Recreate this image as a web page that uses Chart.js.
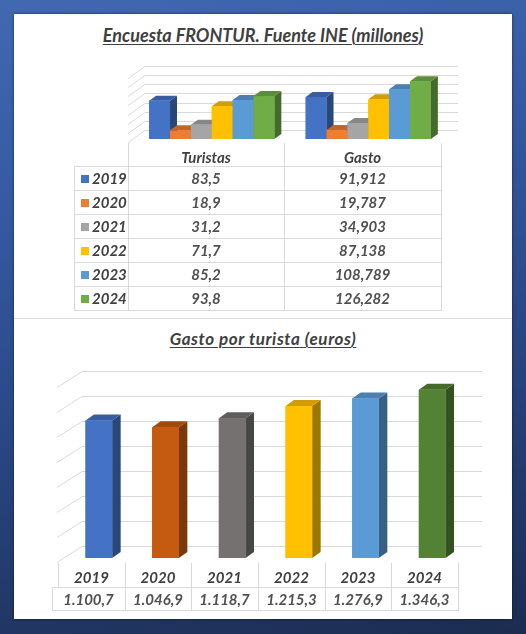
<!DOCTYPE html>
<html><head><meta charset="utf-8">
<script src="https://cdn.jsdelivr.net/npm/chart.js@4.4.1/dist/chart.umd.min.js"></script>
<style>
html,body{margin:0;padding:0;width:526px;height:634px;overflow:hidden;}
body{position:relative;background:linear-gradient(168deg,#4168b1 0%,#3459a0 30%,#27437d 65%,#1c2c50 100%);font-family:Lato,'Open Sans',sans-serif;}
#panel{position:absolute;left:14px;top:14px;width:498px;height:605px;background:#fff;box-shadow:0 0 3px rgba(0,0,0,.55);}
#sep{position:absolute;left:14px;top:318px;width:498px;height:1px;background:#d9d9d9;}
canvas{position:absolute;left:0;top:0;}
.title{position:absolute;left:0;width:526px;text-align:center;font-weight:bold;font-style:italic;color:#404040;font-size:17px;line-height:20px;text-decoration:underline;text-decoration-thickness:1px;text-underline-offset:2px;white-space:nowrap;}
.ln{position:absolute;background:#d9d9d9;}
.cell{position:absolute;display:flex;align-items:center;justify-content:center;font-weight:bold;font-style:italic;color:#404040;font-size:15px;white-space:nowrap;line-height:18px;}
.val{color:#505050;}
.key{position:absolute;width:8px;height:8px;}
</style></head><body>
<div id="panel"></div>
<div id="sep"></div>
<div class="title" id="t1" style="top:25px;font-size:18px;">Encuesta FRONTUR. Fuente INE (millones)</div>
<div class="title" id="t2" style="top:329px;letter-spacing:0.6px;">Gasto por turista (euros)</div>
<canvas id="c1" width="526" height="634"></canvas>
<canvas id="c2" width="526" height="634"></canvas>
<div id="tbl"></div>
<script>
// ---------- DATA ----------
const topCategories = ['Turistas', 'Gasto'];
const years = ['2019', '2020', '2021', '2022', '2023', '2024'];
const turistas = [83.5, 18.9, 31.2, 71.7, 85.2, 93.8];
const gasto = [91.912, 19.787, 34.903, 87.138, 108.789, 126.282];
const gastoPorTurista = [1100.7, 1046.9, 1118.7, 1215.3, 1276.9, 1346.3];
const topTicks = [0, 20, 40, 60, 80, 100, 120, 140];
const bottomTicks = [0, 200, 400, 600, 800, 1000, 1200, 1400];
const topColors = ['#4472C4', '#ED7D31', '#A5A5A5', '#FFC000', '#5B9BD5', '#70AD47'];
const bottomColors = ['#4472C4', '#C55A11', '#767171', '#FFC000', '#5B9BD5', '#548235'];

// ---------- helpers ----------
function shade(hex, f) {
  const n = parseInt(hex.slice(1), 16);
  const r = Math.round(((n >> 16) & 255) * f), g = Math.round(((n >> 8) & 255) * f), b = Math.round((n & 255) * f);
  return 'rgb(' + r + ',' + g + ',' + b + ')';
}
function fmtDec(v, d) { return v.toFixed(d).replace('.', ','); }
function fmtEs(v) {
  const p = v.toFixed(1).split('.');
  return p[0].replace(/\B(?=(\d{3})+(?!\d))/g, '.') + ',' + p[1];
}

const bar3d = {
  id: 'bar3d',
  beforeDatasetsDraw(chart, args, o) {
    const ys = chart.scales.y, ctx = chart.ctx;
    ctx.save();
    ctx.strokeStyle = '#d9d9d9';
    ctx.lineWidth = 1;
    o.ticks.forEach(v => {
      const py = Math.round(ys.getPixelForValue(v) - o.wallDy) + 0.5;
      ctx.beginPath();
      ctx.moveTo(o.floorX, py + o.sideDy);
      ctx.lineTo(o.wallX, py);
      ctx.lineTo(o.wallRight, py);
      ctx.stroke();
    });
    ctx.restore();
  },
  afterDatasetsDraw(chart, args, o) {
    const ctx = chart.ctx;
    const n = chart.data.labels.length;
    ctx.save();
    for (let j = 0; j < n; j++) {
      for (let i = 0; i < chart.data.datasets.length; i++) {
        const el = chart.getDatasetMeta(i).data[j];
        const p = el.getProps(['x', 'y', 'base', 'width'], true);
        const col = el.options.backgroundColor;
        const l = p.x - p.width / 2, r = p.x + p.width / 2, dx = o.dx, dy = o.dy;
        ctx.fillStyle = shade(col, 0.62);
        ctx.beginPath();
        ctx.moveTo(r, p.y); ctx.lineTo(r + dx, p.y + dy); ctx.lineTo(r + dx, p.base + dy); ctx.lineTo(r, p.base);
        ctx.closePath(); ctx.fill();
        ctx.fillStyle = shade(col, 0.82);
        ctx.beginPath();
        ctx.moveTo(l, p.y); ctx.lineTo(l + dx, p.y + dy); ctx.lineTo(r + dx, p.y + dy); ctx.lineTo(r, p.y);
        ctx.closePath(); ctx.fill();
        ctx.fillStyle = col;
        ctx.fillRect(l, p.y, p.width, p.base - p.y);
      }
    }
    ctx.restore();
  }
};

const commonOpts = {
  responsive: false,
  animation: false,
  devicePixelRatio: 1,
  events: [],
  plugins: { legend: { display: false }, tooltip: { enabled: false }, title: { display: false } }
};

// ---------- top chart ----------
new Chart(document.getElementById('c1'), {
  type: 'bar',
  data: {
    labels: topCategories,
    datasets: years.map((yr, i) => ({
      label: yr,
      data: [turistas[i], gasto[i]],
      backgroundColor: topColors[i],
      borderWidth: 0,
      categoryPercentage: 0.8,
      barPercentage: 1.0
    }))
  },
  options: Object.assign({}, commonOpts, {
    layout: { padding: { left: 133.5, right: 79.5, top: 75, bottom: 495 } },
    scales: {
      x: { display: false },
      y: { display: false, min: 0, max: 140, ticks: { stepSize: 20 } }
    },
    plugins: Object.assign({}, commonOpts.plugins, {
      bar3d: { dx: 7, dy: -5, wallDy: 9, sideDy: 12, floorX: 128, wallX: 145, wallRight: 458, ticks: topTicks }
    })
  }),
  plugins: [bar3d]
});

// ---------- bottom chart ----------
new Chart(document.getElementById('c2'), {
  type: 'bar',
  data: {
    labels: years,
    datasets: [{
      label: 'Gasto por turista (euros)',
      data: gastoPorTurista,
      backgroundColor: bottomColors,
      borderWidth: 0,
      categoryPercentage: 0.4,
      barPercentage: 1.0
    }]
  },
  options: Object.assign({}, commonOpts, {
    layout: { padding: { left: 65.5, right: 60.5, top: 383, bottom: 76 } },
    scales: {
      x: { display: false },
      y: { display: false, min: 0, max: 1400, ticks: { stepSize: 200 } }
    },
    plugins: Object.assign({}, commonOpts.plugins, {
      bar3d: { dx: 8.5, dy: -6, wallDy: 12, sideDy: 16, floorX: 57, wallX: 82, wallRight: 482, ticks: bottomTicks }
    })
  }),
  plugins: [bar3d]
});

// ---------- data tables (HTML text) ----------
const layer = document.getElementById('tbl');
function hline(x1, x2, y) {
  const d = document.createElement('div'); d.className = 'ln';
  d.style.left = x1 + 'px'; d.style.top = y + 'px'; d.style.width = (x2 - x1 + 1) + 'px'; d.style.height = '1px';
  layer.appendChild(d);
}
function vline(x, y1, y2) {
  const d = document.createElement('div'); d.className = 'ln';
  d.style.left = x + 'px'; d.style.top = y1 + 'px'; d.style.width = '1px'; d.style.height = (y2 - y1 + 1) + 'px';
  layer.appendChild(d);
}
function cell(txt, x1, x2, y1, y2, align, cls) {
  const d = document.createElement('div'); d.className = 'cell' + (cls ? ' ' + cls : '');
  d.style.left = x1 + 'px'; d.style.top = y1 + 'px'; d.style.width = (x2 - x1) + 'px'; d.style.height = (y2 - y1) + 'px';
  if (align) d.style.justifyContent = align;
  d.textContent = txt;
  layer.appendChild(d);
}

// top table
(function () {
  const keyL = 74, c0 = 128, c1 = 284, c2 = 441, headTop = 143, rowTop = 166, rowH = 24;
  const bottom = rowTop + years.length * rowH;
  [c0, c1, c2].forEach(x => vline(x, headTop, bottom));
  vline(keyL, rowTop, bottom);
  for (let k = 0; k <= years.length; k++) hline(keyL, c2, rowTop + k * rowH);
  cell(topCategories[0], c0, c1, headTop + 2, rowTop + 2);
  cell(topCategories[1], c1, c2, headTop + 2, rowTop + 2);
  years.forEach((yr, i) => {
    const y1 = rowTop + i * rowH, y2 = y1 + rowH;
    const k = document.createElement('div'); k.className = 'key';
    k.style.left = '81px'; k.style.top = (y1 + 9) + 'px'; k.style.background = topColors[i];
    layer.appendChild(k);
    cell(yr, 92, c0, y1, y2, 'flex-start');
    cell(fmtDec(turistas[i], 1), c0, c1, y1, y2, null, 'val');
    cell(fmtDec(gasto[i], 3), c1, c2, y1, y2, null, 'val');
  });
})();

// bottom table
(function () {
  const colL = 58, colW = 400 / 6, yearTop = 563, valTop = 587, valBot = 610, valL = 52;
  for (let k = 0; k <= years.length; k++) {
    const x = Math.round(colL + k * colW);
    vline(x, yearTop, k === 0 ? valTop : valBot);
  }
  vline(valL, valTop, valBot);
  hline(valL, colL + 400, valTop);
  hline(valL, colL + 400, valBot);
  years.forEach((yr, i) => {
    const x1 = Math.round(colL + i * colW), x2 = Math.round(colL + (i + 1) * colW);
    cell(yr, x1, x2, yearTop + 3, valTop + 1);
    cell(fmtEs(gastoPorTurista[i]), i === 0 ? valL : x1, x2, valTop, valBot + 1, null, 'val');
  });
})();
</script>
</body></html>
